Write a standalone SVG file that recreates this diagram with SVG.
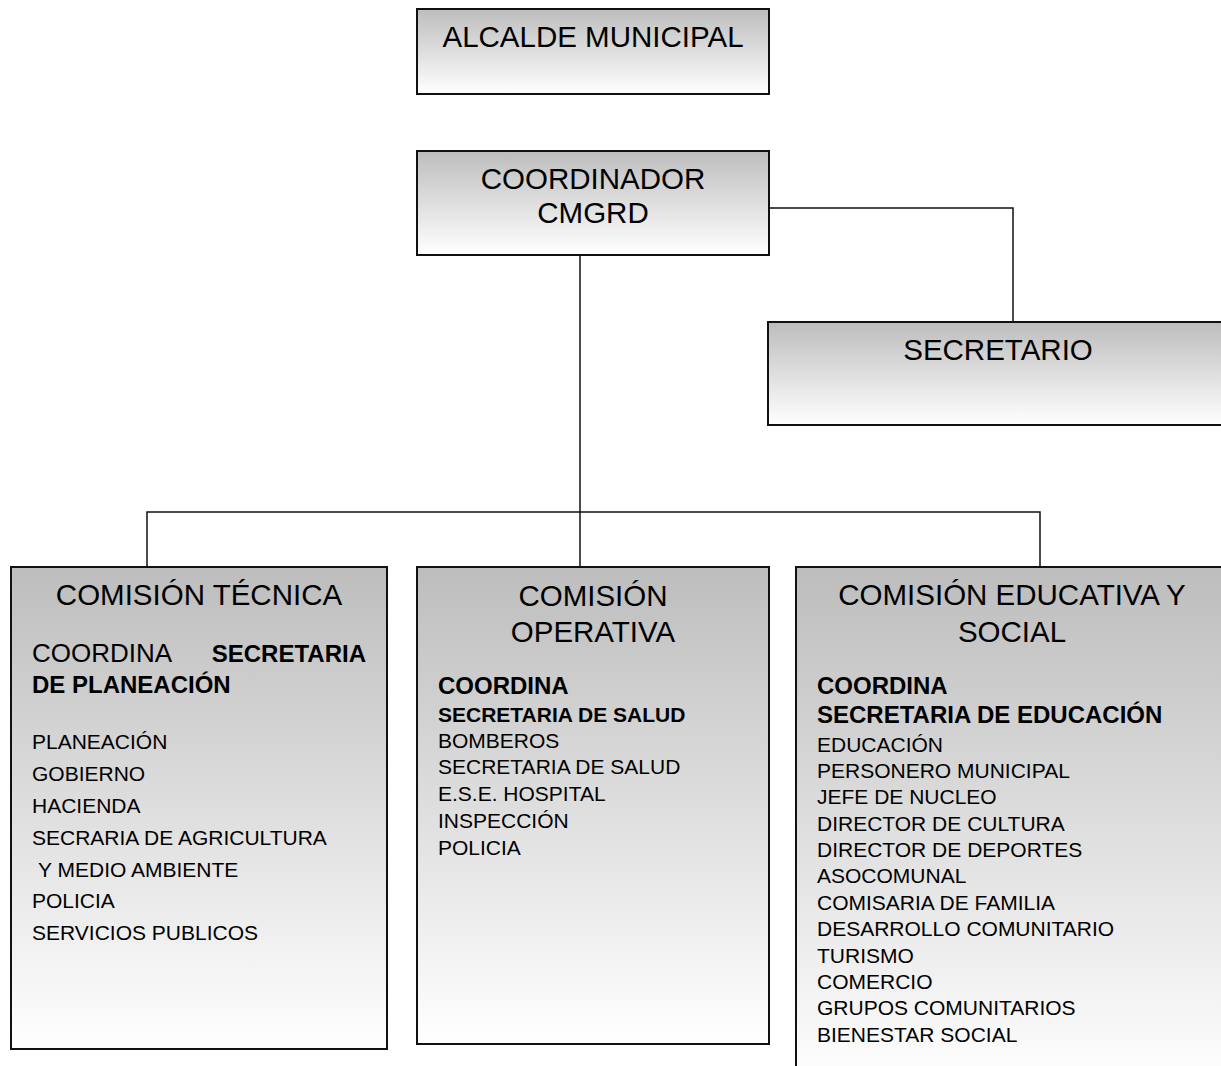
<svg xmlns="http://www.w3.org/2000/svg" width="1221" height="1066" viewBox="0 0 1221 1066">
<defs>
<linearGradient id="g" x1="0" y1="0" x2="0" y2="1">
<stop offset="0" stop-color="#bdbdbd"/>
<stop offset="1" stop-color="#ffffff"/>
</linearGradient>
<style>
.box{fill:url(#g);stroke:#111;stroke-width:2}
.con{fill:none;stroke:#111;stroke-width:1.5}
text{font-family:"Liberation Sans",Arial,sans-serif;fill:#000}
.t{font-size:29.5px;text-anchor:middle}
.h{font-size:24px}
.b{font-weight:bold}
.l{font-size:21px}
</style>
</defs>
<g id="connectors">
<path class="con" d="M769 208 H1013 V322"/>
<path class="con" d="M580 255 V512"/>
<path class="con" d="M147 567 V512 H1040 V567"/>
<path class="con" d="M580 512 V567"/>
</g>
<g id="alcalde">
<rect class="box" x="417" y="9" width="352" height="85"/>
<text class="t" x="593" y="47">ALCALDE MUNICIPAL</text>
</g>
<g id="coordinador">
<rect class="box" x="417" y="151" width="352" height="104"/>
<text class="t" x="593" y="189">COORDINADOR</text>
<text class="t" x="593" y="223">CMGRD</text>
</g>
<g id="secretario">
<rect class="box" x="768" y="322" width="462" height="103"/>
<text class="t" x="998" y="360">SECRETARIO</text>
</g>
<g id="comision-tecnica">
<rect class="box" x="11" y="567" width="376" height="482"/>
<text class="t" x="199" y="605">COMISIÓN TÉCNICA</text>
<text class="h" x="32" y="662" style="font-size:26px">COORDINA</text>
<text class="h b" x="366" y="662" text-anchor="end">SECRETARIA</text>
<text class="h b" x="32" y="693">DE PLANEACIÓN</text>
<text class="l" x="32" y="749">PLANEACIÓN</text>
<text class="l" x="32" y="781">GOBIERNO</text>
<text class="l" x="32" y="813">HACIENDA</text>
<text class="l" x="32" y="845">SECRARIA DE AGRICULTURA</text>
<text class="l" x="38" y="877">Y MEDIO AMBIENTE</text>
<text class="l" x="32" y="908">POLICIA</text>
<text class="l" x="32" y="940">SERVICIOS PUBLICOS</text>
</g>
<g id="comision-operativa">
<rect class="box" x="417" y="567" width="352" height="477"/>
<text class="t" x="593" y="606">COMISIÓN</text>
<text class="t" x="593" y="642">OPERATIVA</text>
<text class="h b" x="438" y="694">COORDINA</text>
<text class="l b" x="438" y="722">SECRETARIA DE SALUD</text>
<text class="l" x="438" y="748">BOMBEROS</text>
<text class="l" x="438" y="774">SECRETARIA DE SALUD</text>
<text class="l" x="438" y="801">E.S.E. HOSPITAL</text>
<text class="l" x="438" y="828">INSPECCIÓN</text>
<text class="l" x="438" y="855">POLICIA</text>
</g>
<g id="comision-educativa">
<rect class="box" x="796" y="567" width="440" height="520"/>
<text class="t" x="1012" y="605">COMISIÓN EDUCATIVA Y</text>
<text class="t" x="1012" y="642">SOCIAL</text>
<text class="h b" x="817" y="694">COORDINA</text>
<text class="h b" x="817" y="723">SECRETARIA DE EDUCACIÓN</text>
<text class="l" x="817" y="752">EDUCACIÓN</text>
<text class="l" x="817" y="778">PERSONERO MUNICIPAL</text>
<text class="l" x="817" y="804">JEFE DE NUCLEO</text>
<text class="l" x="817" y="831">DIRECTOR DE CULTURA</text>
<text class="l" x="817" y="857">DIRECTOR DE DEPORTES</text>
<text class="l" x="817" y="883">ASOCOMUNAL</text>
<text class="l" x="817" y="910">COMISARIA DE FAMILIA</text>
<text class="l" x="817" y="936">DESARROLLO COMUNITARIO</text>
<text class="l" x="817" y="963">TURISMO</text>
<text class="l" x="817" y="989">COMERCIO</text>
<text class="l" x="817" y="1015">GRUPOS COMUNITARIOS</text>
<text class="l" x="817" y="1042">BIENESTAR SOCIAL</text>
</g>
</svg>
